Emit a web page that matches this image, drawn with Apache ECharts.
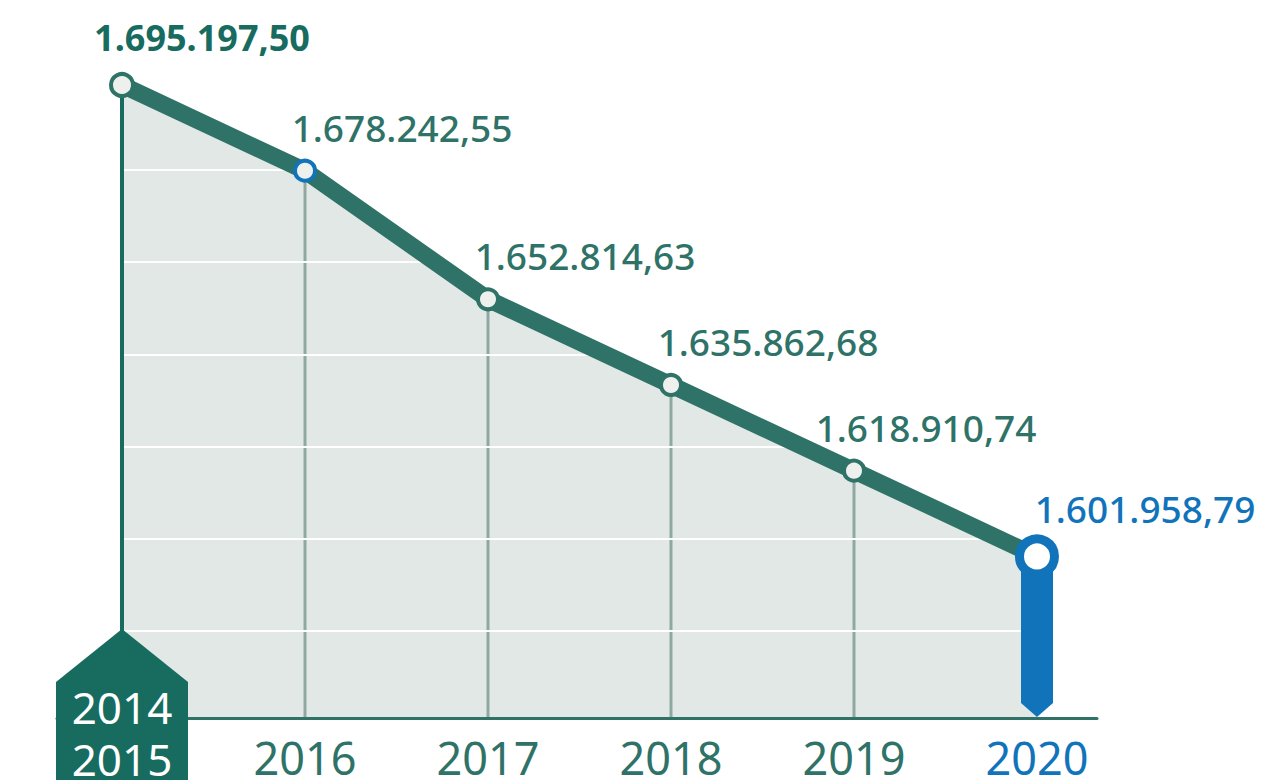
<!DOCTYPE html>
<html>
<head>
<meta charset="utf-8">
<script src="https://cdn.jsdelivr.net/npm/echarts@6/dist/echarts.min.js"></script>
<style>
html,body{margin:0;padding:0;background:#fff;}
#main{width:1263px;height:780px;}
</style>
</head>
<body>
<div id="main"></div>
<script>
// datos
var years = ['2014\n2015', '2016', '2017', '2018', '2019', '2020'];
var valores = [1695197.50, 1678242.55, 1652814.63, 1635862.68, 1618910.74, 1601958.79];
var yMin = 1570000;

var VERDE = '#2e7268', VERDE_OSC = '#176b5f', AZUL = '#1174bb', GRIS = '#8fa8a2', AREA = '#e1e8e5';
var FONT = '"Noto Sans", sans-serif';
var last = valores.length - 1;

// 1.695.197,50
function fmt(n){
    var p = n.toFixed(2).split('.');
    return p[0].replace(/\B(?=(\d{3})+(?!\d))/g, '.') + ',' + p[1];
}

var puntos = valores.map(function(v, i){
    var item = {value: v, symbolSize: 20, itemStyle: {color: '#eef0ee', borderColor: VERDE, borderWidth: 4}};
    if(i == 1) item.itemStyle.borderColor = AZUL;
    if(i == 0){
        item.symbolSize = 22;
        item.label = {fontWeight: 'bold', color: VERDE_OSC, fontSize: 36, offset: [80, 0], distance: 17};
    }
    if(i == 4) item.label = {offset: [72, 0]};
    if(i == last){
        item.symbolSize = 35;
        item.itemStyle = {color: '#fff', borderColor: AZUL, borderWidth: 9};
        item.label = {color: AZUL, offset: [108, 0], distance: 7};
    }
    return item;
});

function dibujarCaidas(params, api){
    var i = api.value(0);
    if(i == 0 || i == last) return null;
    var top = api.coord([i, api.value(1)]);
    var base = api.coord([i, yMin]);
    return {type: 'line', shape: {x1: top[0], y1: top[1], x2: base[0], y2: base[1]},
        style: {stroke: GRIS, lineWidth: 3}};
}

function dibujarMarcas(params, api){
    var i = api.value(0);
    var top = api.coord([i, api.value(1)]);
    var base = api.coord([i, yMin]);
    var x = top[0], b = base[1];
    if(i == 0){
        return {type: 'group', children: [
            {type: 'line', shape: {x1: x, y1: top[1], x2: x, y2: b - 86}, style: {stroke: VERDE_OSC, lineWidth: 4}},
            {type: 'polygon', shape: {points: [[x, b - 89], [x + 66, b - 36], [x + 66, b + 80], [x - 66, b + 80], [x - 66, b - 36]]},
                style: {fill: VERDE_OSC}},
            {type: 'text', style: {text: years[0], x: x, y: b + 15, align: 'center', verticalAlign: 'middle',
                fill: '#fff', fontSize: 44, fontFamily: FONT, lineHeight: 52}}
        ]};
    }
    if(i == last){
        return {type: 'polygon', shape: {points: [[x - 16, top[1]], [x + 16, top[1]], [x + 16, b - 15], [x, b - 1], [x - 16, b - 15]]},
            style: {fill: AZUL}};
    }
    return null;
}

var pares = valores.map(function(v, i){ return [i, v]; });

var myChart = echarts.init(document.getElementById('main'), null, {renderer: 'svg'});
var option = {
    backgroundColor: '#fff',
    animation: false,
    grid: [
        {left: 122, right: 226, top: 85, bottom: 62, outerBoundsMode: 'none'},
        {left: 57, right: 166, top: 85, bottom: 62, outerBoundsMode: 'none'},
        {left: 122, right: 226, top: 170, bottom: 57, outerBoundsMode: 'none'}
    ],
    xAxis: [
        {
            type: 'category', gridIndex: 0, boundaryGap: false,
            data: years.map(function(y, i){ return i == last ? {value: y, textStyle: {color: AZUL}} : y; }),
            axisLine: {show: false}, axisTick: {show: false}, splitLine: {show: false},
            axisLabel: {
                interval: 0, margin: 22, fontSize: 45, lineHeight: 34, color: VERDE, fontFamily: FONT,
                formatter: function(v, i){ return i == 0 ? '' : v; }
            }
        },
        {
            type: 'category', gridIndex: 1, data: [''], z: 3,
            axisLine: {onZero: false, lineStyle: {color: VERDE, width: 3}},
            axisTick: {show: false}, axisLabel: {show: false}, splitLine: {show: false}
        },
        {type: 'value', gridIndex: 2, show: false}
    ],
    yAxis: [
        {type: 'value', gridIndex: 0, min: yMin, max: function(e){ return e.max; }, show: false},
        {type: 'value', gridIndex: 1, show: false},
        {
            type: 'value', gridIndex: 2, min: 0, max: 6, interval: 1, z: 3,
            axisLine: {show: false}, axisTick: {show: false}, axisLabel: {show: false},
            splitLine: {show: true, lineStyle: {color: '#ffffff', width: 2}}
        }
    ],
    series: [
        {
            name: 'area', type: 'line', xAxisIndex: 0, yAxisIndex: 0, data: valores,
            symbol: 'none', lineStyle: {width: 0}, areaStyle: {color: AREA, opacity: 1, origin: 'start'},
            silent: true, z: 1
        },
        {
            name: 'caidas', type: 'custom', xAxisIndex: 0, yAxisIndex: 0, data: pares,
            encode: {x: 0, y: 1}, renderItem: dibujarCaidas, silent: true, z: 2
        },
        {
            name: 'marcas', type: 'custom', xAxisIndex: 0, yAxisIndex: 0, data: pares,
            encode: {x: 0, y: 1}, renderItem: dibujarMarcas, silent: true, z: 4
        },
        {
            name: 'valor', type: 'line', xAxisIndex: 0, yAxisIndex: 0, data: puntos,
            symbol: 'circle', clip: false, z: 5,
            lineStyle: {color: VERDE, width: 17, cap: 'round'},
            label: {
                show: true, position: 'top', distance: 13, offset: [97, 0],
                fontSize: 37, fontWeight: 500, color: VERDE, fontFamily: FONT,
                formatter: function(p){ return fmt(p.value); }
            }
        }
    ]
};
myChart.setOption(option);
</script>
</body>
</html>
